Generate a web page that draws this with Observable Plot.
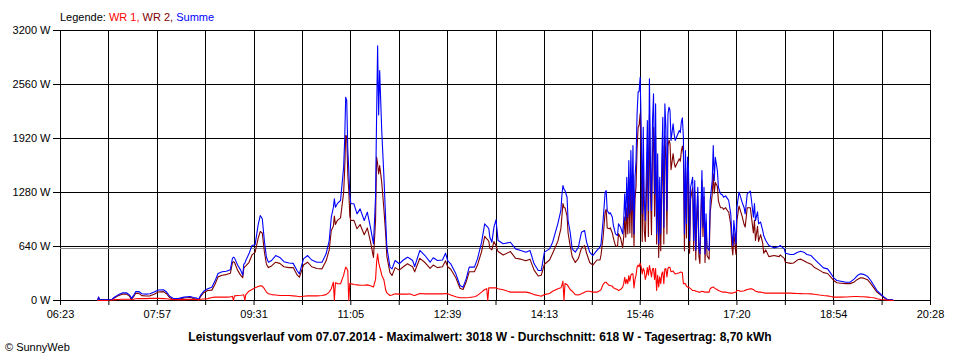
<!DOCTYPE html>
<html><head><meta charset="utf-8">
<script src="https://cdn.jsdelivr.net/npm/d3@7"></script>
<script src="https://cdn.jsdelivr.net/npm/@observablehq/plot@0.6"></script>
<style>
body{margin:0;background:#fff;}
#wrap{position:relative;width:960px;height:360px;font-family:"Liberation Sans",Arial,sans-serif;font-size:11px;color:#000;overflow:hidden;}
#chart{position:absolute;left:0;top:0;}
#legend{position:absolute;left:60px;top:11px;white-space:nowrap;line-height:13px;}
#caption{position:absolute;left:0;top:330px;width:960px;text-align:center;font-weight:bold;font-size:12px;white-space:nowrap;}
#copy{position:absolute;left:5px;top:341px;white-space:nowrap;}
</style></head><body>
<div id="wrap"><div id="chart"></div><div id="legend"></div><div id="caption"></div><div id="copy"></div></div>
<script>
const seriesNames = ["WR 1", "WR 2", "Summe"];
const seriesColors = ["#ff0000", "#800000", "#0000ff"];
const yTicks = [0, 640, 1280, 1920, 2560, 3200];
const xTickLabels = ["06:23","07:57","09:31","11:05","12:39","14:13","15:46","17:20","18:54","20:28"];
const averageW = 618;
const captionText = "Leistungsverlauf vom 07.07.2014 - Maximalwert: 3018 W - Durchschnitt: 618 W - Tagesertrag: 8,70 kWh";
const copyText = "© SunnyWeb";

const times = [
"06:59","07:00","07:01","07:10","07:13","07:16","07:19","07:23","07:27","07:30",
"07:32","07:34","07:36","07:39","07:42","07:46","07:50","07:54","07:58","08:03",
"08:06","08:09","08:13","08:18","08:23","08:29","08:32","08:35","08:37","08:39",
"08:42","08:46","08:50","08:53","08:56","09:00","09:04","09:08","09:10","09:11",
"09:12","09:15","09:18","09:20","09:21","09:22","09:23","09:26","09:29","09:32",
"09:35","09:37","09:39","09:41","09:43","09:45","09:48","09:52","09:56","10:00",
"10:05","10:09","10:13","10:15","10:19","10:23","10:27","10:32","10:37","10:41",
"10:44","10:46","10:48","10:49","10:50","10:52","10:55","10:58","10:59","11:00",
"11:01","11:02","11:03","11:04","11:05","11:08","11:11","11:14","11:18","11:21",
"11:24","11:27","11:29","11:30","11:31","11:32","11:33","11:34","11:35","11:37",
"11:39","11:40","11:43","11:45","11:48","11:52","11:56","12:00","12:02","12:05",
"12:07","12:12","12:17","12:22","12:25","12:29","12:34","12:37","12:39","12:42",
"12:47","12:51","12:54","12:57","13:00","13:05","13:08","13:12","13:15","13:17",
"13:18","13:19","13:20","13:22","13:24","13:26","13:28","13:33","13:40","13:45",
"13:50","13:55","13:59","14:03","14:07","14:10","14:13","14:18","14:21","14:26",
"14:29","14:30","14:31","14:32","14:33","14:35","14:36","14:38","14:40","14:43",
"14:46","14:49","14:52","14:54","14:57","15:00","15:04","15:07","15:08","15:10",
"15:12","15:13","15:14","15:16","15:17","15:19","15:20","15:22","15:24","15:25",
"15:27","15:29","15:30","15:31","15:32","15:33","15:34","15:35","15:36","15:37",
"15:38","15:39","15:40","15:41","15:42","15:43","15:44","15:45","15:46","15:47",
"15:48","15:49","15:50","15:51","15:52","15:53","15:54","15:55","15:56","15:57",
"15:58","15:59","16:00","16:01","16:02","16:03","16:04","16:05","16:06","16:07",
"16:08","16:09","16:10","16:11","16:12","16:13","16:14","16:15","16:16","16:18",
"16:19","16:20","16:22","16:24","16:25","16:26","16:27","16:28","16:29","16:30",
"16:31","16:32","16:33","16:34","16:35","16:37","16:38","16:39","16:40","16:41",
"16:42","16:43","16:44","16:46","16:47","16:48","16:49","16:50","16:51","16:53",
"16:54","16:56","16:57","16:58","16:59","17:01","17:02","17:04","17:06","17:07",
"17:09","17:11","17:12","17:14","17:15","17:16","17:17","17:19","17:20","17:22",
"17:23","17:25","17:27","17:28","17:30","17:33","17:34","17:36","17:37","17:38",
"17:40","17:41","17:43","17:45","17:46","17:48","17:51","17:56","18:01","18:02",
"18:06","18:07","18:12","18:15","18:19","18:22","18:25","18:28","18:32","18:35",
"18:40","18:44","18:48","18:51","18:54","18:57","19:01","19:06","19:10","19:14",
"19:17","19:20","19:23","19:27","19:30","19:33","19:36","19:40","19:43","19:46",
"19:51","19:52"
];

const summe = [
0,40,8,8,15,45,67,90,92,67,
25,60,105,107,80,75,80,100,125,127,
100,50,22,25,40,47,35,30,12,60,
110,140,158,230,320,340,347,365,500,513,
505,420,360,300,430,440,474,553,652,660,
900,1007,968,711,513,454,474,533,510,460,
445,440,350,316,494,533,480,454,454,553,
711,987,1100,1205,1106,1150,1185,1580,1900,2409,
2370,1800,1540,1250,1146,1146,1027,1086,948,1047,
869,672,1224,2172,3018,2200,2726,2370,2015,1501,
909,632,395,375,474,435,480,513,500,474,
403,593,533,454,506,474,480,561,474,435,
316,178,158,257,395,395,494,691,909,880,
869,850,750,691,869,956,711,672,690,612,
593,573,593,435,356,356,573,612,691,909,
1067,1250,1363,1320,1304,1224,948,810,612,573,
632,810,830,691,573,533,593,632,672,948,
1284,1304,1067,1027,1040,987,889,790,770,909,
869,790,948,1264,948,1461,987,1659,1027,1778,
1067,1837,790,1461,1659,2212,2468,2480,2646,2054,
1027,2054,1185,948,1501,2133,1067,2627,1659,1067,
2133,2449,1264,2330,790,1738,672,1461,790,1659,
2172,869,2330,2054,1067,2212,2291,2252,1896,2094,
1975,1896,1955,2015,1990,2113,2165,1935,790,1778,
909,1700,1540,711,1343,1461,711,1422,593,1067,
1343,632,553,1540,869,1343,553,1027,632,593,
1185,1422,1837,1422,1698,1540,1343,1264,1250,1224,
1240,1205,1185,1027,790,652,948,672,1106,1284,
1250,1165,1100,1027,1264,1296,1200,987,1150,948,
1050,909,930,830,770,711,652,624,640,652,
612,561,545,545,573,584,573,545,533,494,
435,387,375,324,269,237,229,217,217,257,
296,316,310,284,237,178,118,71,40,12,
8,0
];

const wr1 = [
0,0,0,0,5,10,12,15,15,15,
12,15,20,22,22,22,25,25,25,22,
20,15,12,10,10,12,12,12,10,15,
18,22,35,40,40,40,40,42,50,0,
55,60,62,65,68,0,70,110,130,150,
165,175,170,140,100,80,70,65,60,60,
60,55,50,45,50,55,55,55,60,70,
100,140,217,0,210,200,198,300,350,395,
380,356,0,205,200,190,185,180,180,185,
175,160,250,450,553,450,400,356,300,250,
118,90,59,65,79,75,75,75,79,65,
59,83,79,79,79,79,79,83,79,65,
45,32,32,32,35,45,60,99,130,140,
0,150,150,150,150,150,140,127,99,99,
99,99,90,70,59,51,70,83,110,140,
150,180,229,0,200,190,170,130,110,70,
65,80,99,110,110,99,99,118,130,190,
217,217,200,178,178,170,150,138,130,118,
130,158,200,276,200,250,200,296,230,300,
316,316,150,250,300,395,420,400,442,400,
316,380,350,250,300,390,300,415,350,280,
375,380,250,380,118,300,160,280,200,316,
340,200,375,375,280,380,395,390,340,350,
330,316,320,330,336,336,330,198,200,198,
170,158,158,150,140,118,118,118,110,110,
105,99,99,110,105,105,99,99,99,99,
140,158,160,150,140,130,118,110,99,99,
99,95,90,87,87,87,95,99,118,118,
110,110,115,120,130,138,138,130,120,110,
105,99,99,95,90,87,87,87,87,87,
87,87,87,85,83,82,80,80,79,75,
65,59,55,47,40,40,40,42,45,47,
47,45,45,40,35,32,20,12,8,4,
0,0
];

const wr2 = [
0,40,8,8,10,35,55,75,77,52,
13,45,85,85,58,53,55,75,100,105,
80,35,10,15,30,35,23,18,2,45,
92,118,123,190,280,300,307,323,450,460,
450,360,298,270,380,400,410,450,540,570,
740,818,800,580,430,390,410,454,440,400,
390,390,300,276,420,454,400,380,375,470,
600,830,880,1000,900,950,980,1280,1550,1955,
1950,1500,1300,1000,948,950,850,900,780,860,
700,510,950,1700,1620,1500,1600,1500,1400,1100,
760,520,330,296,390,360,400,435,420,400,
340,500,450,380,420,390,400,470,400,370,
270,145,130,220,340,340,420,580,760,730,
720,700,620,600,700,650,580,540,580,500,
490,470,490,360,290,300,430,480,560,700,
850,1000,1150,1100,1100,1000,800,650,520,450,
500,620,650,560,450,420,480,480,540,750,
1050,1080,860,850,860,800,740,650,640,790,
740,630,750,990,750,1100,790,1350,800,1450,
750,1500,640,1200,1350,1800,2050,2080,2212,1650,
700,1650,830,700,1200,1750,760,2200,1300,780,
1750,2050,1000,1950,670,1430,510,1180,590,1340,
1830,670,1950,1680,790,1830,1900,1860,1550,1740,
1640,1580,1630,1680,1650,1770,1830,1730,590,1570,
740,1540,1380,560,1200,1340,590,1300,480,950,
1230,530,440,1420,760,1230,450,920,530,490,
1040,1260,1500,1270,1400,1350,1180,1100,1100,1080,
1100,1060,1050,900,650,540,800,550,950,1120,
1080,1000,900,870,1100,1100,1000,800,950,711,
880,700,780,680,560,600,520,533,520,540,
500,454,440,445,482,490,470,450,430,395,
360,330,320,280,237,210,205,200,200,220,
250,269,265,245,200,150,100,60,32,10,
5,0
];

const toMin = s => { const [h, m] = s.split(":").map(Number); return h * 60 + m; };
const tickMins = xTickLabels.map(toMin);
const gridMins = [];
tickMins.forEach((t, i) => { gridMins.push(t); if (i < tickMins.length - 1) gridMins.push((t + tickMins[i + 1]) / 2); });
const labelOf = new Map(tickMins.map((t, i) => [t, xTickLabels[i]]));
const mk = vals => times.map((t, i) => ({t: toMin(t), v: vals[i]}));
const dWr1 = mk(wr1), dWr2 = mk(wr2), dSum = mk(summe);

const font = "'Liberation Sans', Arial, sans-serif";
const chart = Plot.plot({
  width: 960, height: 360,
  marginLeft: 60, marginRight: 30, marginTop: 30, marginBottom: 60,
  style: {fontFamily: font, fontSize: "11px", background: "transparent", color: "#000", overflow: "visible"},
  x: {domain: [tickMins[0], tickMins[tickMins.length - 1]]},
  y: {domain: [0, 3200]},
  marks: [
    Plot.ruleX(gridMins, {stroke: "#000", strokeWidth: 1, shapeRendering: "crispEdges"}),
    Plot.ruleY(yTicks, {stroke: "#000", strokeWidth: 1, shapeRendering: "crispEdges"}),
    Plot.ruleY([averageW], {stroke: "#8a8a8a", strokeWidth: 1, shapeRendering: "crispEdges"}),
    Plot.line(dWr2, {x: "t", y: "v", stroke: seriesColors[1], strokeWidth: 1.1}),
    Plot.line(dSum, {x: "t", y: "v", stroke: seriesColors[2], strokeWidth: 1.1}),
    Plot.line(dWr1, {x: "t", y: "v", stroke: seriesColors[0], strokeWidth: 1.1}),
    Plot.axisY({ticks: yTicks, tickSize: 7, tickPadding: 3, tickFormat: d => d + " W", label: null}),
    Plot.axisX({ticks: gridMins, tickSize: 5, tickPadding: 5, tickFormat: d => labelOf.get(d) ?? "", label: null})
  ]
});
document.getElementById("chart").appendChild(chart);

const legend = document.getElementById("legend");
legend.appendChild(document.createTextNode("Legende: "));
seriesNames.forEach((n, i) => {
  const s = document.createElement("span");
  s.style.color = seriesColors[i];
  s.textContent = n + (i < seriesNames.length - 1 ? ", " : "");
  legend.appendChild(s);
});
document.getElementById("caption").textContent = captionText;
document.getElementById("copy").textContent = copyText;
</script>
</body></html>
